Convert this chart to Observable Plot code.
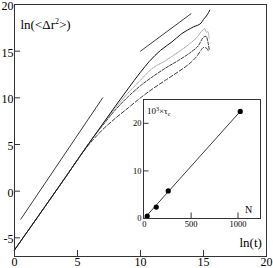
<!DOCTYPE html>
<html><head><meta charset="utf-8">
<script src="https://cdn.jsdelivr.net/npm/d3@7"></script>
<script src="https://cdn.jsdelivr.net/npm/@observablehq/plot@0.6"></script>
<style>
body{margin:0;background:#fff;}
#wrap{position:relative;width:273px;height:268px;overflow:hidden;}
#wrap svg{position:absolute;overflow:visible;}
#wrap svg text{font-family:"Liberation Serif","DejaVu Serif",serif;}
</style></head><body><div id="wrap"></div>
<script>
// ---- main chart data: ln(<dr^2>) vs ln(t) ----
const solidX  = [0, 4, 6, 7, 8, 9, 10, 10.7, 11.6, 12.5, 13.2, 14.2, 14.8, 15.0, 15.3, 15.5];
const solidY  = [-6.3, 1.4, 5.3, 7.2, 9.1, 10.95, 12.75, 13.9, 15.1, 16.0, 16.8, 17.6, 18.0, 18.4, 18.9, 19.4];
const dottedX = [0, 4, 6, 7, 8, 9, 10, 10.8, 12, 13, 14, 14.5, 14.9, 15.1, 15.25, 15.35, 15.45];
const dottedY = [-6.3, 1.4, 5.3, 7.15, 8.9, 10.5, 11.9, 13.0, 14.0, 14.9, 15.9, 16.5, 17.2, 17.4, 17.0, 17.1, 16.4];
const dashX   = [0, 4, 6, 6.5, 7, 8, 9, 10, 11, 12, 13, 14, 14.6, 15.0, 15.2, 15.35, 15.45];
const dashY   = [-6.3, 1.4, 5.3, 6.2, 7.05, 8.7, 10.1, 11.3, 12.3, 13.2, 14.0, 14.9, 15.6, 16.5, 16.6, 16.0, 15.2];
const lowX    = [0, 4, 5.5, 6, 6.5, 7, 8, 9, 10, 11, 12, 13, 14, 14.5, 14.8, 15.0, 15.2, 15.4];
const lowY    = [-6.3, 1.4, 4.3, 5.15, 5.9, 6.6, 7.8, 8.9, 10.0, 11.0, 11.9, 12.8, 13.8, 14.5, 15.1, 15.4, 15.35, 15.0];
// guide lines (slope 2 and slope 1)
const ref1X = [0.5, 7],  ref1Y = [-3, 10];
const ref2X = [10, 14],  ref2Y = [15, 19];
// axis ticks
const mainXTicks = [0, 5, 10, 15, 20];
const mainYTicks = [-5, 0, 5, 10, 15, 20];
const mainXInner = [5, 10, 15];
const mainYInner = [-5, 0, 5, 10, 15];

// ---- inset data: 10^3 x tau_c vs N ----
const insetN   = [32, 128, 256, 1024];
const insetTau = [0.5, 2.4, 5.8, 22.5];
const fitN   = [0, 1024];
const fitTau = [0, 22.5];
const insetXTicks = [0, 500, 1000];
const insetYTicks = [0, 10, 20];
const insetXInner = [500, 1000];
const insetYInner = [10, 20];

const pts = (xs, ys) => xs.map((x, i) => ({x, y: ys[i]}));
const FONT = "'Liberation Serif', 'DejaVu Serif', serif";
const wrap = document.getElementById("wrap");

// ---------- main ----------
const W = 273, H = 268, mL = 14, mR = 7, mT = 4, mB = 12;
const pw = W - mL - mR, ph = H - mT - mB;
const main = Plot.plot({
  width: W, height: H, marginLeft: mL, marginRight: mR, marginTop: mT, marginBottom: mB,
  style: {fontFamily: FONT, fontSize: "12px", background: "transparent", color: "#000", overflow: "visible"},
  x: {domain: [0, 20], label: null},
  y: {domain: [-7, 20], label: null},
  marks: [
    Plot.axisX(mainXTicks, {tickSize: 0, tickPadding: 1, tickFormat: d => String(d)}),
    Plot.axisY(mainYTicks, {tickSize: 0, tickPadding: 1, dy: 1.5, tickFormat: d => String(d)}),
    Plot.tickY(mainYInner, {y: d => d, insetRight: pw - 6, stroke: "#333"}),
    Plot.tickX(mainXInner, {x: d => d, insetTop: ph - 6, stroke: "#333"}),
    Plot.line(pts(ref1X, ref1Y), {x: "x", y: "y", stroke: "#222", strokeWidth: 0.9}),
    Plot.line(pts(ref2X, ref2Y), {x: "x", y: "y", stroke: "#222", strokeWidth: 0.9}),
    Plot.line(pts(lowX, lowY), {x: "x", y: "y", stroke: "#222", strokeWidth: 0.9, strokeDasharray: "4,2", curve: "monotone-x"}),
    Plot.line(pts(dashX, dashY), {x: "x", y: "y", stroke: "#222", strokeWidth: 0.9, strokeDasharray: "3,1.5", curve: "monotone-x"}),
    Plot.line(pts(dottedX, dottedY), {x: "x", y: "y", stroke: "#999", strokeWidth: 0.9, strokeDasharray: "1,1", curve: "monotone-x"}),
    Plot.line(pts(solidX, solidY), {x: "x", y: "y", stroke: "#111", strokeWidth: 1, curve: "monotone-x"}),
    Plot.frame({stroke: "#333"})
  ]
});
main.style.left = "0px"; main.style.top = "0px";
wrap.appendChild(main);
{
  const s = d3.select(main);
  const t = s.append("text").attr("x", 20.5).attr("y", 28.5).attr("text-anchor", "start")
    .style("font-size", "13px").attr("fill", "#000");
  t.append("tspan").text("ln(<Δr");
  t.append("tspan").attr("dy", -5).style("font-size", "8px").text("2");
  t.append("tspan").attr("dy", 5).text(">)");
  s.append("text").attr("x", 239.5).attr("y", 246.5).attr("text-anchor", "start")
    .style("font-size", "13px").attr("fill", "#000").text("ln(t)");
}

// ---------- inset ----------
const iLeft = 128, iTop = 97, iW = 134, iH = 133, imL = 15, imR = 2, imT = 2, imB = 12;
const ipw = iW - imL - imR, iph = iH - imT - imB;
const inset = Plot.plot({
  width: iW, height: iH, marginLeft: imL, marginRight: imR, marginTop: imT, marginBottom: imB,
  style: {fontFamily: FONT, fontSize: "8.5px", background: "transparent", color: "#000", overflow: "visible"},
  x: {domain: [-8, 1240], ticks: insetXTicks, tickSize: 0, tickPadding: 2, label: null, tickFormat: d => String(d)},
  y: {domain: [0, 25], ticks: insetYTicks, tickSize: 0, tickPadding: 2, label: null, tickFormat: d => String(d)},
  marks: [
    Plot.tickY(insetYInner, {y: d => d, insetRight: ipw - 5.5, stroke: "#333"}),
    Plot.tickX(insetXInner, {x: d => d, insetTop: iph - 5.5, stroke: "#333"}),
    Plot.line(pts(fitN, fitTau), {x: "x", y: "y", stroke: "#222", strokeWidth: 0.9}),
    Plot.dot(pts(insetN, insetTau), {x: "x", y: "y", r: 2.6, fill: "#000", stroke: "none"}),
    Plot.frame({stroke: "#333"})
  ]
});
inset.style.left = iLeft + "px"; inset.style.top = iTop + "px";
wrap.appendChild(inset);
{
  const s = d3.select(inset);
  const t = s.append("text").attr("x", 19).attr("y", 17).attr("text-anchor", "start")
    .style("font-size", "9px").attr("fill", "#000");
  t.append("tspan").text("10");
  t.append("tspan").attr("dy", -3.5).style("font-size", "6px").text("3");
  t.append("tspan").attr("dy", 3.5).text("×τ");
  t.append("tspan").attr("dy", 2).style("font-size", "6px").text("c");
  s.append("text").attr("x", 117).attr("y", 116).attr("text-anchor", "start")
    .style("font-size", "10px").attr("fill", "#000").text("N");
}
</script></body></html>
